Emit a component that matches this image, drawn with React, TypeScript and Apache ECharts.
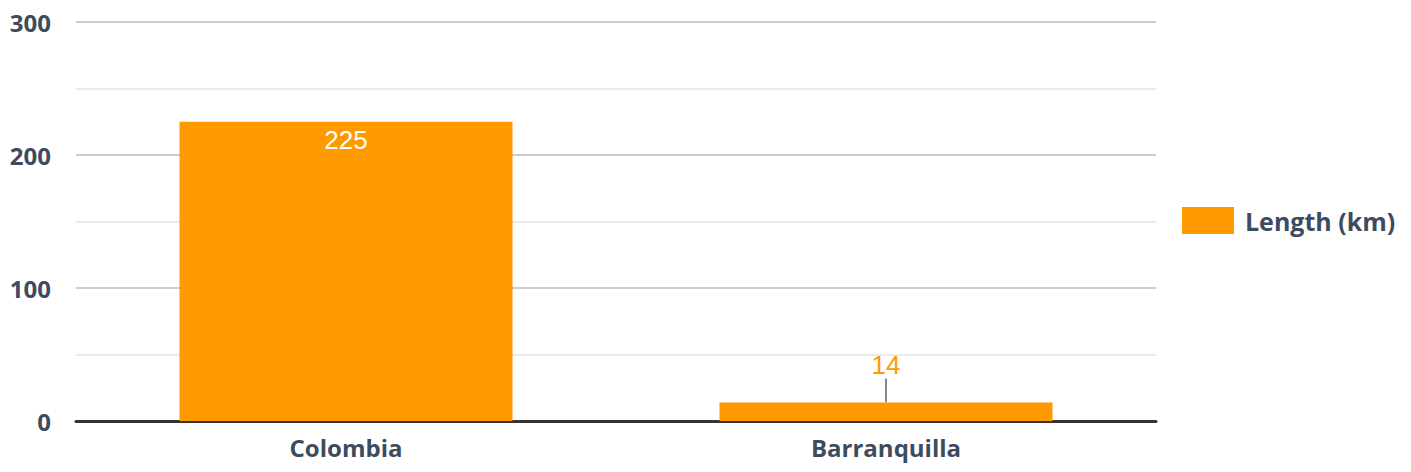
import React, { useEffect, useRef } from "react";
import * as echarts from "echarts";

const categories = ["Colombia", "Barranquilla"];
const lengthKm = [225, 14];
const seriesName = "Length (km)";
const yMin = 0;
const yMax = 300;
const yInterval = 100;

const textColor = "#3d4b5e";
const barColor = "#ff9900";

export default function App() {
  const ref = useRef<HTMLDivElement>(null);
  useEffect(() => {
    document.body.style.margin = "0";
    if (!ref.current) return;
    const chart = echarts.init(ref.current, undefined, { renderer: "svg" });
    chart.setOption({
      animation: false,
      grid: { left: 76, right: 255, top: 22, bottom: 51, containLabel: false },
      legend: {
        show: true,
        orient: "vertical",
        left: 1182,
        top: 207,
        padding: 0,
        itemWidth: 52,
        itemHeight: 27,
        icon: "rect",
        data: [seriesName],
        textStyle: {
          fontFamily: "Open Sans",
          fontWeight: "bold",
          fontSize: 25,
          color: textColor,
          padding: [0, 0, 0, 6],
        },
      },
      xAxis: {
        type: "category",
        data: categories,
        axisTick: { show: false },
        axisLine: { show: true, lineStyle: { color: "#333333", width: 3 } },
        axisLabel: {
          fontFamily: "Open Sans",
          fontWeight: "bold",
          fontSize: 24,
          color: textColor,
          margin: 14,
        },
      },
      yAxis: {
        type: "value",
        min: yMin,
        max: yMax,
        interval: yInterval,
        axisLine: { show: false },
        axisTick: { show: false },
        axisLabel: {
          fontFamily: "Open Sans",
          fontWeight: "bold",
          fontSize: 24,
          color: textColor,
          margin: 25,
        },
        splitLine: { show: true, lineStyle: { color: "#cccccc", width: 2 } },
        minorTick: { show: false, splitNumber: 2 },
        minorSplitLine: { show: true, lineStyle: { color: "#ebebeb", width: 2 } },
      },
      series: [
        {
          name: seriesName,
          type: "bar",
          barWidth: 333,
          itemStyle: { color: barColor },
          data: [
            {
              value: lengthKm[0],
              label: {
                show: true,
                position: "insideTop",
                distance: 5,
                color: "#ffffff",
                fontFamily: "Liberation Sans",
                fontSize: 26,
              },
            },
            {
              value: lengthKm[1],
              label: {
                show: true,
                position: "top",
                distance: 3,
                color: barColor,
                fontFamily: "Liberation Sans",
                fontSize: 26,
              },
              labelLine: { show: true, lineStyle: { color: "#888888", width: 2 } },
            },
          ],
          labelLayout: (p: any) => (p.dataIndex === 1 ? { dy: -21 } : {}),
        },
      ],
    });
    return () => chart.dispose();
  }, []);
  return <div ref={ref} style={{ width: 1411, height: 472 }} />;
}
